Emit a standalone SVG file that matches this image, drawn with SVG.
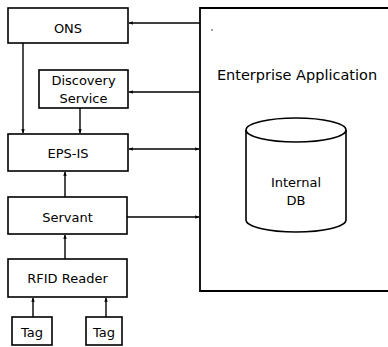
<svg xmlns="http://www.w3.org/2000/svg" width="388" height="347" viewBox="0 0 388 347">
<defs>
<style>
.box{fill:#fff;stroke:#000;stroke-width:1.6}
.ln{fill:none;stroke:#000;stroke-width:1.4}
.t{font-family:"DejaVu Sans",Verdana,sans-serif;font-size:13px;fill:#000;text-anchor:middle}
</style>
<marker id="ah" viewBox="0 0 8 8" refX="7.5" refY="4" markerWidth="4" markerHeight="4" orient="auto-start-reverse" markerUnits="userSpaceOnUse">
<path d="M0,0.5 L8,4 L0,7.5 Z" fill="#000"/>
</marker>
</defs>
<rect width="388" height="347" fill="#fff"/>
<g id="enterprise">
<path class="ln" d="M392,8 H200 V291 H392" style="stroke-width:1.8"/>
<circle cx="212" cy="30" r="0.7" fill="#000"/>
<text class="t" x="297" y="80" style="font-size:14.5px">Enterprise Application</text>
</g>
<g id="internal-db">
<path class="box" d="M246,130 V220 A50,12 0 0 0 346,220 V130"/>
<ellipse class="box" cx="296" cy="130" rx="50" ry="12"/>
<text class="t" x="296" y="187">Internal</text>
<text class="t" x="296" y="205">DB</text>
</g>
<g id="ons">
<rect class="box" x="8" y="8" width="120" height="35"/>
<text class="t" x="68" y="33">ONS</text>
</g>
<g id="discovery">
<rect class="box" x="39" y="70" width="89" height="38"/>
<text class="t" x="83.5" y="85">Discovery</text>
<text class="t" x="83.5" y="103">Service</text>
</g>
<g id="epsis">
<rect class="box" x="8" y="134" width="120" height="37"/>
<text class="t" x="68" y="158">EPS-IS</text>
</g>
<g id="servant">
<rect class="box" x="8" y="197" width="119" height="37"/>
<text class="t" x="67.5" y="222">Servant</text>
</g>
<g id="rfid">
<rect class="box" x="8" y="259" width="119" height="38"/>
<text class="t" x="67.5" y="283">RFID Reader</text>
</g>
<g id="tag1">
<rect class="box" x="12" y="317" width="40" height="28"/>
<text class="t" x="32" y="337">Tag</text>
</g>
<g id="tag2">
<rect class="box" x="86" y="317" width="36" height="28"/>
<text class="t" x="104" y="337">Tag</text>
</g>
<g id="connectors">
<line class="ln" x1="200" y1="23" x2="129" y2="23" marker-end="url(#ah)"/>
<line class="ln" x1="200" y1="92" x2="129" y2="92" marker-end="url(#ah)"/>
<line class="ln" x1="129" y1="149" x2="199" y2="149" marker-start="url(#ah)" marker-end="url(#ah)"/>
<line class="ln" x1="127" y1="217" x2="199" y2="217" marker-end="url(#ah)"/>
<line class="ln" x1="23" y1="43" x2="23" y2="133" marker-end="url(#ah)"/>
<line class="ln" x1="80" y1="108" x2="80" y2="133" marker-end="url(#ah)"/>
<line class="ln" x1="65" y1="197" x2="65" y2="172" marker-end="url(#ah)"/>
<line class="ln" x1="65" y1="259" x2="65" y2="235" marker-end="url(#ah)"/>
<line class="ln" x1="33" y1="317" x2="33" y2="298" marker-end="url(#ah)"/>
<line class="ln" x1="106" y1="317" x2="106" y2="298" marker-end="url(#ah)"/>
</g>
</svg>
